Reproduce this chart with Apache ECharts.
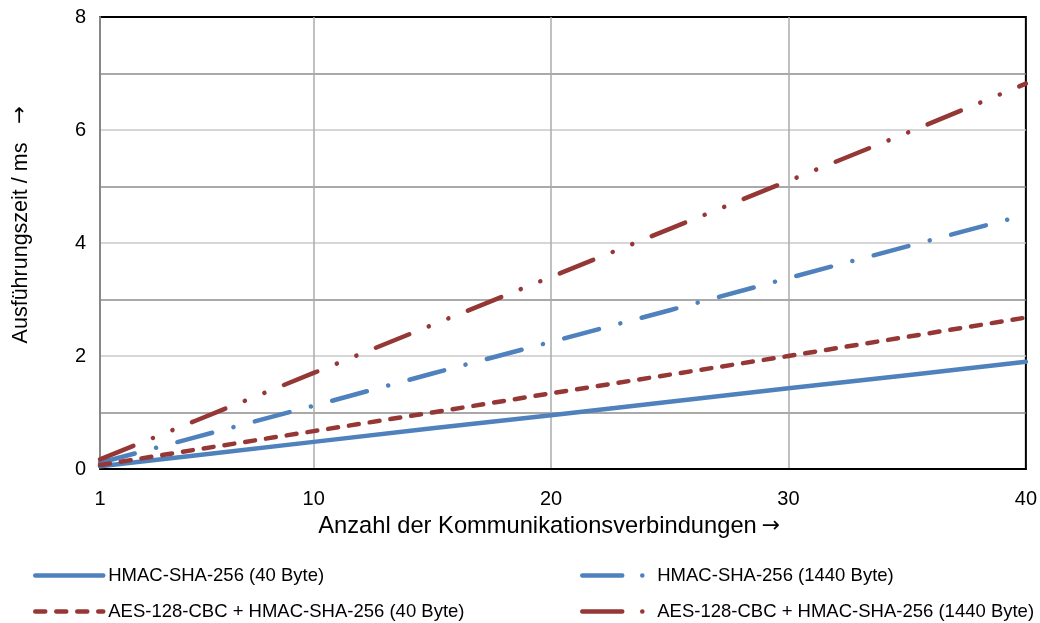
<!DOCTYPE html>
<html>
<head>
<meta charset="utf-8">
<script src="https://cdn.jsdelivr.net/npm/echarts@6/dist/echarts.min.js"></script>
<style>
  html, body { margin: 0; padding: 0; background: #fff; }
  #chart { width: 1040px; height: 623px; }
</style>
</head>
<body>
<div id="chart"></div>
<script>
// Ausführungszeit in ms über der Anzahl der Kommunikationsverbindungen
var connections = [1, 5, 10, 15, 20, 25, 30, 35, 40];
var hmac40      = [0.05, 0.24, 0.48, 0.72, 0.95, 1.19, 1.43, 1.66, 1.90];
var hmac1440    = [0.11, 0.56, 1.12, 1.69, 2.25, 2.81, 3.38, 3.94, 4.50];
var aesHmac40   = [0.07, 0.34, 0.67, 1.00, 1.34, 1.67, 2.00, 2.34, 2.68];
var aesHmac1440 = [0.17, 0.85, 1.70, 2.55, 3.40, 4.25, 5.10, 5.95, 6.82];

var seriesNames = [
  'HMAC-SHA-256 (40 Byte)',
  'HMAC-SHA-256 (1440 Byte)',
  'AES-128-CBC + HMAC-SHA-256 (40 Byte)',
  'AES-128-CBC + HMAC-SHA-256 (1440 Byte)'
];

var xTickLabels = [1, 10, 20, 30, 40];
var yTickLabels = [0, 2, 4, 6, 8];

var BLUE = '#4f81bd';
var RED = '#953735';
var FONT = '"Liberation Sans", Arial, sans-serif';
var ARROW_FONT = '"DejaVu Sans", sans-serif';

function pairs(ys) {
  return connections.map(function (x, i) { return [x, ys[i]]; });
}

var dashLong = [36, 22, 0.1, 22];
var dashLongDotDot = [36, 21, 0.1, 21, 0.1, 21];
var dashShort = [10, 11];

function lineSeries(name, ys, color, dash) {
  return {
    name: name,
    type: 'line',
    data: pairs(ys),
    symbol: 'none',
    silent: true,
    lineStyle: { color: color, width: 4.5, type: dash, cap: 'round', join: 'round' },
    itemStyle: { color: color },
    emphasis: { disabled: true }
  };
}

// one legend block per entry, so every entry sits in its own column/row
function legendAt(id, name, left, top, width, color, dash) {
  return {
    id: id,
    show: true,
    orient: 'horizontal',
    data: [{
      name: name,
      lineStyle: { color: color, width: 4.5, type: dash, cap: 'round' },
      itemStyle: { color: 'rgba(0,0,0,0)', borderWidth: 0 }
    }],
    left: left,
    top: top,
    padding: 0,
    itemWidth: width,
    itemHeight: 16,
    selectedMode: false,
    textStyle: { fontFamily: FONT, fontSize: 18.5, color: '#000' }
  };
}

var chart = echarts.init(document.getElementById('chart'), null, { renderer: 'canvas' });

chart.setOption({
  animation: false,
  backgroundColor: '#ffffff',
  grid: {
    left: 100, right: 13, top: 17, bottom: 154,
    show: true, borderColor: '#000', borderWidth: 2, backgroundColor: 'transparent'
  },
  xAxis: {
    type: 'value',
    min: 1, max: 40,
    axisLine: { show: true, onZero: false, lineStyle: { color: '#000', width: 2 } },
    axisTick: { show: false, customValues: xTickLabels },
    axisLabel: { customValues: xTickLabels, fontFamily: FONT, fontSize: 20, color: '#000', margin: 20 },
    splitLine: { show: true, showMinLine: false, showMaxLine: false, lineStyle: { color: '#ababab', width: 1.5 } }
  },
  yAxis: {
    type: 'value',
    min: 0, max: 8, interval: 1,
    axisLine: { show: true, lineStyle: { color: '#878787', width: 2 } },
    axisTick: { show: false },
    axisLabel: { customValues: yTickLabels, fontFamily: FONT, fontSize: 20, color: '#000', margin: 14 },
    splitLine: { show: true, showMinLine: false, showMaxLine: false, lineStyle: { color: ['#8c8c8c', '#c9c9c9'], width: 1.5 } }
  },
  legend: [
    legendAt('l1', seriesNames[0], 33, 566, 68, BLUE, 'solid'),
    legendAt('l2', seriesNames[2], 33, 602, 68, RED, dashShort),
    legendAt('l3', seriesNames[1], 580, 566, 70, BLUE, [40, 20, 0.1, 20]),
    legendAt('l4', seriesNames[3], 580, 602, 70, RED, [40, 20, 0.1, 20])
  ],
  graphic: [
    {
      type: 'text', x: 537.5, y: 526, silent: true,
      style: { text: 'Anzahl der Kommunikationsverbindungen', font: '23.7px ' + FONT, fill: '#000', align: 'center', verticalAlign: 'middle' }
    },
    {
      type: 'text', x: 771, y: 526, silent: true,
      style: { text: '\u2192', font: '22px ' + ARROW_FONT, fill: '#000', align: 'center', verticalAlign: 'middle' }
    },
    {
      type: 'text', x: 21, y: 243, rotation: Math.PI / 2, silent: true,
      style: { text: 'Ausführungszeit / ms', font: '21.5px ' + FONT, fill: '#000', align: 'center', verticalAlign: 'middle' }
    },
    {
      type: 'text', x: 21, y: 115, rotation: Math.PI / 2, silent: true,
      style: { text: '\u2192', font: '21px ' + ARROW_FONT, fill: '#000', align: 'center', verticalAlign: 'middle' }
    }
  ],
  series: [
    lineSeries(seriesNames[0], hmac40, BLUE, 'solid'),
    lineSeries(seriesNames[1], hmac1440, BLUE, dashLong),
    lineSeries(seriesNames[2], aesHmac40, RED, dashShort),
    lineSeries(seriesNames[3], aesHmac1440, RED, dashLongDotDot)
  ]
});
</script>
</body>
</html>
